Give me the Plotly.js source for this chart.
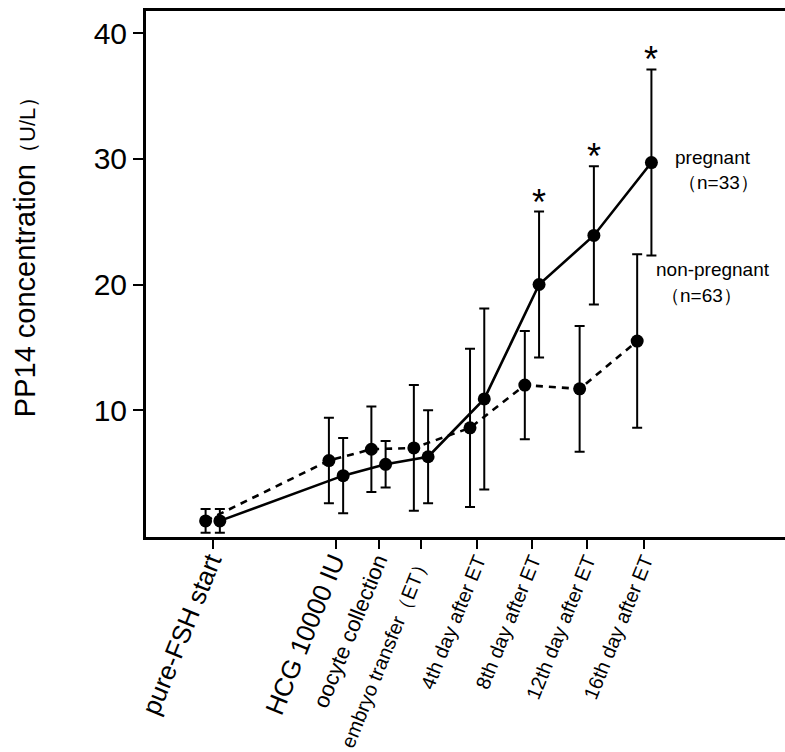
<!DOCTYPE html>
<html>
<head>
<meta charset="utf-8">
<script src="https://cdn.plot.ly/plotly-3.0.1.min.js"></script>
<style>
  html, body { margin: 0; padding: 0; background: #fff; }
  #chart { width: 785px; height: 752px; }
</style>
</head>
<body>
<div id="chart"></div>
<script>
// ---- data ----
const stageLabels = ['pure-FSH start', 'HCG 10000 IU', 'oocyte collection', 'embryo transfer（ET）',
                     '4th day after ET', '8th day after ET', '12th day after ET', '16th day after ET'];
const stageDay = [0, 9, 12.1, 15.2, 19.3, 23.3, 27.3, 31.5];   // approximate timeline (days)
const pregnantMean = [1.2, 4.8, 5.7, 6.3, 10.9, 20.0, 23.9, 29.7];
const pregnantSD   = [0.95, 3.0, 1.85, 3.7, 7.2, 5.8, 5.5, 7.4];
const nonPregMean  = [1.2, 6.0, 6.9, 7.0, 8.6, 12.0, 11.7, 15.5];
const nonPregSD    = [0.95, 3.4, 3.4, 5.0, 6.3, 4.3, 5.0, 6.9];
const significant  = [false, false, false, false, false, true, true, true];
const yTicks = [10, 20, 30, 40];

// ---- styling ----
const FONT = 'Liberation Sans, Arial, Helvetica, sans-serif';
const labelSizes = [26, 26, 22, 20, 20, 20, 20, 20];
const OFFSET = 0.52;   // horizontal shift between the two groups

const xPreg = stageDay.map(d => d + OFFSET);
const xNon  = stageDay.map(d => d - OFFSET);

const marker = { color: '#000', size: 13, symbol: 'circle' };
const errStyle = { type: 'data', symmetric: true, color: '#000', thickness: 2, width: 5 };

const traces = [
  {
    x: xNon, y: nonPregMean, type: 'scatter', mode: 'lines+markers', name: 'non-pregnant',
    line: { color: '#000', width: 2.6, dash: '7px,6px' }, marker: marker,
    error_y: Object.assign({ array: nonPregSD }, errStyle), cliponaxis: false
  },
  {
    x: xPreg, y: pregnantMean, type: 'scatter', mode: 'lines+markers', name: 'pregnant',
    line: { color: '#000', width: 2.6 }, marker: marker,
    error_y: Object.assign({ array: pregnantSD }, errStyle), cliponaxis: false
  }
];

const tickText = stageLabels.map((t, i) => `<span style="font-size:${labelSizes[i]}px">${t}</span>`);

const starAnnotations = [];
significant.forEach((s, i) => {
  if (!s) return;
  starAnnotations.push({
    xref: 'x', yref: 'y', x: xPreg[i], y: pregnantMean[i] + pregnantSD[i],
    text: '*', showarrow: false, xanchor: 'center', yanchor: 'bottom', yshift: -13,
    font: { family: FONT, size: 36, color: '#000' }
  });
});

const layout = {
  width: 785, height: 752,
  margin: { l: 146, r: 0, t: 11, b: 215 },
  paper_bgcolor: '#fff', plot_bgcolor: '#fff',
  showlegend: false,
  font: { family: FONT, color: '#000' },
  xaxis: {
    range: [-4.87, 41.77], showgrid: false, zeroline: false,
    showline: true, linewidth: 3, linecolor: '#000', mirror: true,
    ticks: 'outside', ticklen: 9, tickwidth: 2, tickcolor: '#000',
    tickmode: 'array', tickvals: stageDay, ticktext: tickText,
    tickangle: -68, ticklabelstandoff: -8,
    tickfont: { family: FONT, size: 20, color: '#000' }
  },
  yaxis: {
    range: [-0.08, 41.75], showgrid: false, zeroline: false,
    showline: true, linewidth: 3, linecolor: '#000',
    ticks: 'outside', ticklen: 10, tickwidth: 2, tickcolor: '#000',
    tickmode: 'array', tickvals: yTicks, ticktext: yTicks.map(String),
    tickfont: { family: FONT, size: 30, color: '#000' }
  },
  annotations: [
    { xref: 'paper', yref: 'paper', x: -0.189, y: 0.542, textangle: -90,
      xanchor: 'center', yanchor: 'middle', showarrow: false,
      text: 'PP14 concentration<span style="font-size:22px">（U/L）</span>',
      font: { family: FONT, size: 29, color: '#000' } },
    { xref: 'x', yref: 'y', x: 33.6, y: 30.1, xanchor: 'left', yanchor: 'middle', showarrow: false,
      text: 'pregnant', font: { family: FONT, size: 19, color: '#000' } },
    { xref: 'x', yref: 'y', x: 33.8, y: 28.1, xanchor: 'left', yanchor: 'middle', showarrow: false,
      text: '（n=33）', font: { family: FONT, size: 19, color: '#000' } },
    { xref: 'x', yref: 'y', x: 32.2, y: 21.2, xanchor: 'left', yanchor: 'middle', showarrow: false,
      text: 'non-pregnant', font: { family: FONT, size: 19, color: '#000' } },
    { xref: 'x', yref: 'y', x: 32.6, y: 19.1, xanchor: 'left', yanchor: 'middle', showarrow: false,
      text: '（n=63）', font: { family: FONT, size: 19, color: '#000' } }
  ].concat(starAnnotations)
};

Plotly.newPlot('chart', traces, layout, { staticPlot: true, displayModeBar: false });
</script>
</body>
</html>
